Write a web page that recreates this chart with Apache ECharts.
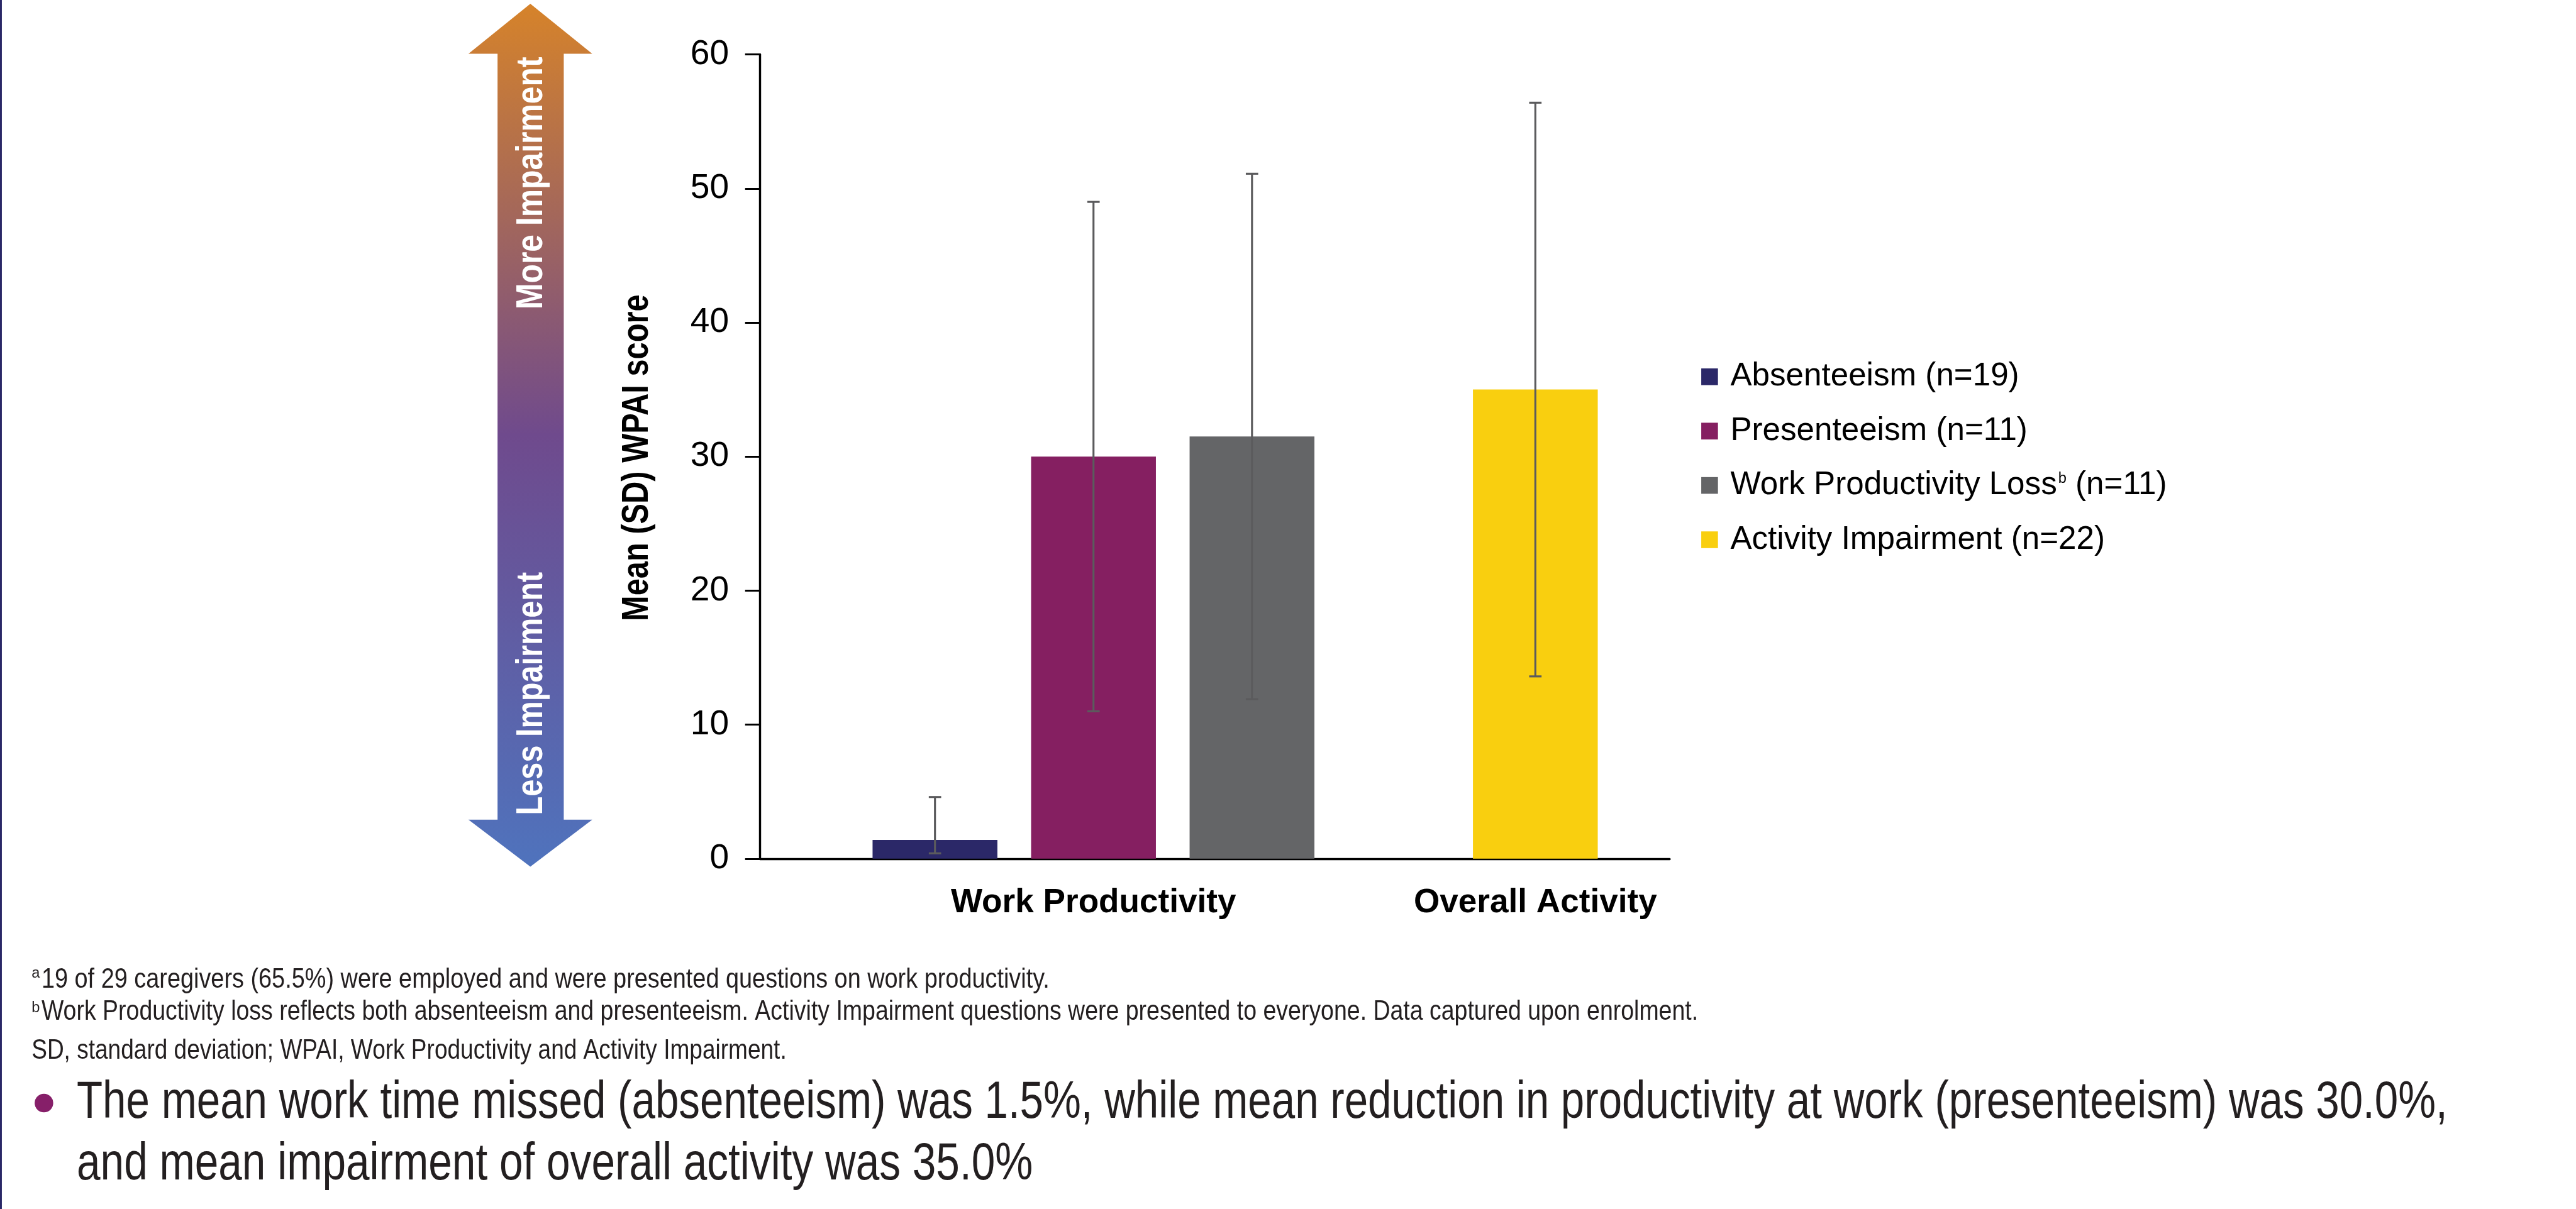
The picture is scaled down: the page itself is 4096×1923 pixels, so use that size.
<!DOCTYPE html>
<html>
<head>
<meta charset="utf-8">
<script src="https://cdn.jsdelivr.net/npm/echarts@6/dist/echarts.min.js"></script>
<style>
  html, body { margin: 0; padding: 0; background: #fff; }
  #chart { width: 4096px; height: 1923px; }
</style>
</head>
<body>
<div id="chart"></div>
<script>
// reference was 4160 wide, window is 4096 -> everything at 0.984
var S = 0.984;
function s(v) { return v * S; }
var FONT = "'Liberation Sans', Arial, sans-serif";

// --- data ---
var categories = ['Work Productivity', 'Overall Activity'];
var seriesNames = ['Absenteeism (n=19)', 'Presenteeism (n=11)', 'Work Productivity Loss (n=11)', 'Activity Impairment (n=22)'];
var seriesColors = ['#2b2868', '#851f61', '#646567', '#f9cf0f'];
var absenteeism = [1.4, '-'];
var presenteeism = [30.0, '-'];
var productivityLoss = [31.5, '-'];
var activityImpairment = ['-', 35.0];
// mean - SD .. mean + SD, as drawn
var absenteeismRange = [[0.4, 4.6], null];
var presenteeismRange = [[11.0, 49.0], null];
var productivityLossRange = [[11.9, 51.1], null];
var activityImpairmentRange = [null, [13.6, 56.4]];
var yMin = 0, yMax = 60, yStep = 10;
var yTitle = 'Mean (SD) WPAI score';

var footnotes = [
    { sup: 'a', text: '19 of 29 caregivers (65.5%) were employed and were presented questions on work productivity.' },
    { sup: 'b', text: 'Work Productivity loss reflects both absenteeism and presenteeism. Activity Impairment questions were presented to everyone. Data captured upon enrolment.' },
    { sup: '', text: 'SD, standard deviation; WPAI, Work Productivity and Activity Impairment.' }
];
var bulletLines = [
    'The mean work time missed (absenteeism) was 1.5%, while mean reduction in productivity at work (presenteeism) was 30.0%,',
    'and mean impairment of overall activity was 35.0%'
];

var GAP = 0.27;
var ERR = '#5b5b5d';

// squeeze text so it spans the same width as in the reference
var measureCtx = document.createElement('canvas').getContext('2d');
function fitScale(text, font, width) {
    measureCtx.font = font;
    return width / measureCtx.measureText(text).width;
}

function errorSeries(ranges, slot) {
    var data = [];
    ranges.forEach(function (r, i) {
        if (r) data.push([i, r[0], r[1]]);
    });
    return {
        type: 'custom',
        xAxisIndex: 1,
        yAxisIndex: 1,
        silent: true,
        z: 5,
        data: data,
        encode: { x: 0, y: [1, 2] },
        renderItem: function (params, api) {
            var lo = api.coord([api.value(0), api.value(1)]);
            var hi = api.coord([api.value(0), api.value(2)]);
            var band = api.size([1, 0])[0];
            var barW = band / (3 + 2 * GAP);
            var x = lo[0] + (slot - 1) * barW * (1 + GAP);
            var cap = s(10);
            var st = { stroke: ERR, lineWidth: s(3.2) };
            return {
                type: 'group',
                children: [
                    { type: 'line', shape: { x1: x, y1: lo[1], x2: x, y2: hi[1] }, style: st },
                    { type: 'line', shape: { x1: x - cap, y1: hi[1], x2: x + cap, y2: hi[1] }, style: st },
                    { type: 'line', shape: { x1: x - cap, y1: lo[1], x2: x + cap, y2: lo[1] }, style: st }
                ]
            };
        }
    };
}

function bar(name, data, color, stack) {
    var o = {
        name: name,
        type: 'bar',
        xAxisIndex: 1,
        yAxisIndex: 1,
        data: data,
        itemStyle: { color: color },
        barGap: (GAP * 100) + '%',
        barCategoryGap: '0%'
    };
    if (stack) o.stack = stack;
    return o;
}

// arrow outline (decoration, reference pixels)
var arrowPts = [[857, 6], [957, 87], [911, 87], [911, 1325], [957, 1325], [857, 1401],
    [757, 1325], [804, 1325], [804, 87], [757, 87]].map(function (p) { return [s(p[0]), s(p[1])]; });

var boldFont = 'bold ' + s(61) + 'px ' + FONT;

function vText(text, x, y, width, fill) {
    return {
        type: 'text', x: s(x), y: s(y), rotation: Math.PI / 2,
        scaleX: fitScale(text, boldFont, s(width)),
        style: { text: text, fill: fill, font: boldFont, textAlign: 'center', textVerticalAlign: 'middle' }
    };
}

var graphics = [
    { type: 'rect', shape: { x: 0, y: 0, width: s(3), height: 1923 }, style: { fill: '#2a2767' } },
    {
        type: 'polygon', shape: { points: arrowPts },
        style: {
            fill: {
                type: 'linear', x: 0, y: 0, x2: 0, y2: 1,
                colorStops: [
                    { offset: 0, color: '#d6832a' },
                    { offset: 0.5, color: '#6f4a8d' },
                    { offset: 1, color: '#4f73bd' }
                ]
            }
        }
    },
    vText('More Impairment', 859, 296, 408, '#fff'),
    vText('Less Impairment', 859, 1121, 393, '#fff'),
    vText(yTitle, 1030, 740, 528, '#000')
];

// footnotes
var fnFont = s(46) + 'px ' + FONT;
var fnMid = [1584, 1636, 1699];
var fnLeft = [67, 67, 51];
var fnWidth = [1629, 2677, 1220];
var supMid = [1574, 1630];
footnotes.forEach(function (f, i) {
    if (f.sup) {
        graphics.push({
            type: 'text', x: s(51), y: s(supMid[i]),
            style: { text: f.sup, fill: '#231f20', font: s(24) + 'px ' + FONT, textAlign: 'left', textVerticalAlign: 'middle' }
        });
    }
    graphics.push({
        type: 'text', x: s(fnLeft[i]), y: s(fnMid[i]), scaleX: fitScale(f.text, fnFont, s(fnWidth[i])),
        style: { text: f.text, fill: '#231f20', font: fnFont, textAlign: 'left', textVerticalAlign: 'middle' }
    });
});

// bullet
graphics.push({ type: 'circle', shape: { cx: s(71), cy: s(1783), r: s(15) }, style: { fill: '#861f69' } });
var bFont = s(84) + 'px ' + FONT;
var bMid = [1784, 1883];
var bWidth = [3831, 1545];
bulletLines.forEach(function (t, i) {
    graphics.push({
        type: 'text', x: s(124), y: s(bMid[i]), scaleX: fitScale(t, bFont, s(bWidth[i])),
        style: { text: t, fill: '#231f20', font: bFont, textAlign: 'left', textVerticalAlign: 'middle' }
    });
});

var chart = echarts.init(document.getElementById('chart'));

var option = {
    animation: false,
    backgroundColor: '#fff',
    grid: [
        { left: s(1228), top: s(88), width: s(1470), height: s(1300) },
        { left: s(1410), top: s(88), width: s(1428), height: s(1300) }
    ],
    xAxis: [
        {
            gridIndex: 0, type: 'value', min: 0, max: 1,
            axisLine: { show: true, onZero: false, lineStyle: { color: '#000', width: s(3.5) } },
            axisTick: { show: false }, axisLabel: { show: false }, splitLine: { show: false }
        },
        {
            gridIndex: 1, type: 'category', data: categories,
            axisLine: { show: false }, axisTick: { show: false }, splitLine: { show: false },
            axisLabel: {
                interval: 0, color: '#000', fontFamily: FONT, fontWeight: 'bold',
                fontSize: s(54), lineHeight: s(54), margin: s(45)
            }
        }
    ],
    yAxis: [
        {
            gridIndex: 0, type: 'value', min: yMin, max: yMax, interval: yStep,
            axisLine: { show: true, onZero: false, lineStyle: { color: '#000', width: s(3.5) } },
            axisTick: { show: true, length: s(24), lineStyle: { color: '#000', width: s(3) } },
            axisLabel: { color: '#000', fontFamily: FONT, fontSize: s(56), margin: s(50) },
            splitLine: { show: false }
        },
        { gridIndex: 1, type: 'value', min: yMin, max: yMax, show: false }
    ],
    legend: {
        data: seriesNames,
        orient: 'vertical',
        left: s(2744),
        top: s(578),
        icon: 'rect',
        itemWidth: s(27),
        itemHeight: s(27),
        itemGap: s(36),
        selectedMode: false,
        formatter: function (name) { return name.replace('Loss', 'Loss{sup|b}'); },
        textStyle: {
            color: '#000', fontFamily: FONT, fontSize: s(52),
            padding: [0, 0, 0, s(15)],
            rich: { sup: { color: '#000', fontFamily: FONT, fontSize: s(24), padding: [0, 0, s(22), s(2)] } }
        }
    },
    series: [
        bar(seriesNames[0], absenteeism, seriesColors[0]),
        bar(seriesNames[1], presenteeism, seriesColors[1], 'mid'),
        bar(seriesNames[2], productivityLoss, seriesColors[2]),
        bar(seriesNames[3], activityImpairment, seriesColors[3], 'mid'),
        errorSeries(absenteeismRange, 0),
        errorSeries(presenteeismRange, 1),
        errorSeries(productivityLossRange, 2),
        errorSeries(activityImpairmentRange, 1)
    ],
    graphic: graphics
};

chart.setOption(option);
</script>
</body>
</html>
